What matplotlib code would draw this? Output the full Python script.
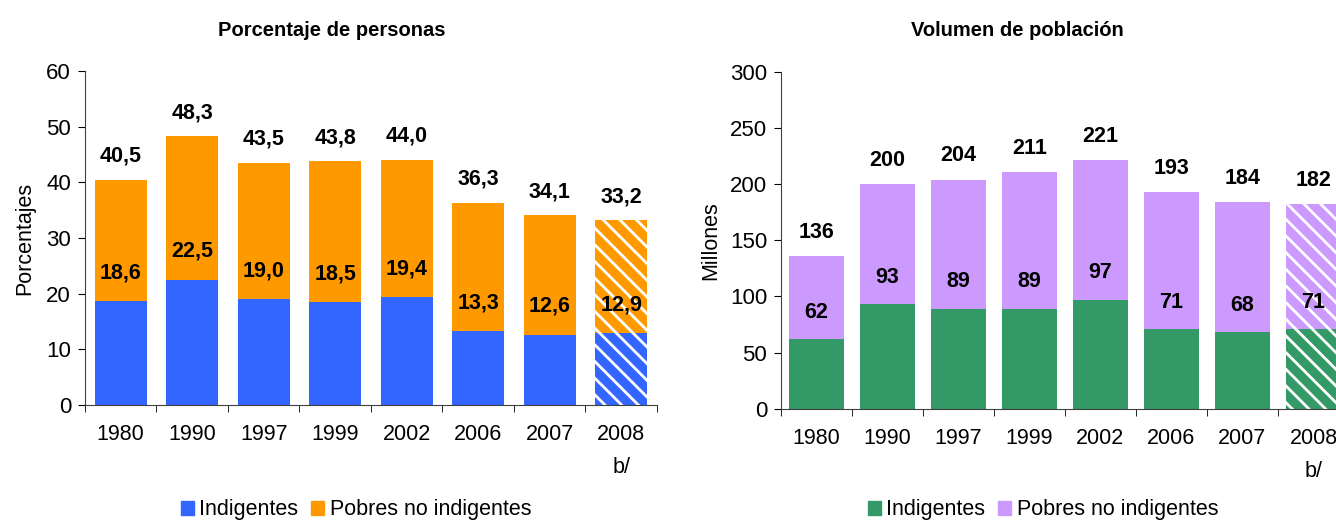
import matplotlib.pyplot as plt
from matplotlib.patches import Patch

plt.rcParams['font.family'] = ['Liberation Sans', 'DejaVu Sans']
plt.rcParams['hatch.linewidth'] = 2.0

# datos
anios = ['1980', '1990', '1997', '1999', '2002', '2006', '2007', '2008\nb/']
pct_total = [40.5, 48.3, 43.5, 43.8, 44.0, 36.3, 34.1, 33.2]
pct_indig = [18.6, 22.5, 19.0, 18.5, 19.4, 13.3, 12.6, 12.9]
vol_total = [136, 200, 204, 211, 221, 193, 184, 182]
vol_indig = [62, 93, 89, 89, 97, 71, 68, 71]

fig = plt.figure(figsize=(13.36, 5.22), dpi=100)
ax1 = fig.add_axes([0.0636, 0.2241, 0.4281, 0.6398])
ax2 = fig.add_axes([0.5846, 0.2165, 0.4251, 0.6465])


def panel(ax, total, indig, c_ind, c_pob, ymax, ystep, ancho, off_in, fmt, ylabel, lpad):
    x = list(range(len(total)))
    pobres = [t - i for t, i in zip(total, indig)]
    for k in x:
        hatch = '\\\\' if k == len(x) - 1 else None
        ax.bar(k, indig[k], width=ancho, color=c_ind, edgecolor='white',
               linewidth=0, hatch=hatch)
        ax.bar(k, pobres[k], bottom=indig[k], width=ancho, color=c_pob,
               edgecolor='white', linewidth=0, hatch=hatch)
        ax.annotate(fmt(total[k]), (k, total[k]), xytext=(0, 17),
                    textcoords='offset points', ha='center', va='center',
                    fontsize=15.5, fontweight='bold')
        ax.text(k, indig[k] + off_in, fmt(indig[k]), ha='center', va='center',
                fontsize=15.5, fontweight='bold')
    ax.set_xlim(-0.5, len(x) - 0.5)
    ax.set_ylim(0, ymax)
    ax.set_yticks(range(0, ymax + 1, ystep))
    ax.set_xticks(x)
    ax.set_xticklabels(anios)
    ax.set_xticks([k - 0.5 for k in range(len(x) + 1)], minor=True)
    ax.tick_params(axis='x', which='major', length=0, pad=14, labelsize=15.5)
    ax.tick_params(axis='x', which='minor', length=5, direction='out')
    ax.tick_params(axis='y', length=5, direction='out', labelsize=16, pad=5)
    for lbl in ax.get_xticklabels():
        lbl.set_linespacing(1.75)
        lbl.set_verticalalignment('top')
    ax.spines['top'].set_visible(False)
    ax.spines['right'].set_visible(False)
    ax.spines['left'].set_color('#404040')
    ax.spines['bottom'].set_color('#404040')
    ax.set_ylabel(ylabel, fontsize=15.5, labelpad=lpad)


def coma(v):
    return f'{v:.1f}'.replace('.', ',')


panel(ax1, pct_total, pct_indig, '#3366FF', '#FF9900', 60, 10, 0.73, 5.1,
      coma, 'Porcentajes', 8)
panel(ax2, vol_total, vol_indig, '#339966', '#CC99FF', 300, 50, 0.77, 24,
      lambda v: str(v), 'Millones', 6)

fig.text(332 / 1336, 1 - 30 / 522, 'Porcentaje de personas', ha='center',
         va='center', fontsize=14.5, fontweight='bold')
fig.text(1017 / 1336, 1 - 30 / 522, 'Volumen de población', ha='center',
         va='center', fontsize=14.5, fontweight='bold')

for cx, c_ind, c_pob in [(356, '#3366FF', '#FF9900'), (1043, '#339966', '#CC99FF')]:
    handles = [Patch(color=c_ind, label='Indigentes'),
               Patch(color=c_pob, label='Pobres no indigentes')]
    fig.legend(handles=handles, loc='center', ncol=2, frameon=False,
               bbox_to_anchor=(cx / 1336, 1 - 510 / 522), fontsize=15.5,
               handlelength=0.6, handleheight=0.6, handletextpad=0.25,
               columnspacing=0.6, borderaxespad=0)

fig.savefig('out.png', dpi=100)
